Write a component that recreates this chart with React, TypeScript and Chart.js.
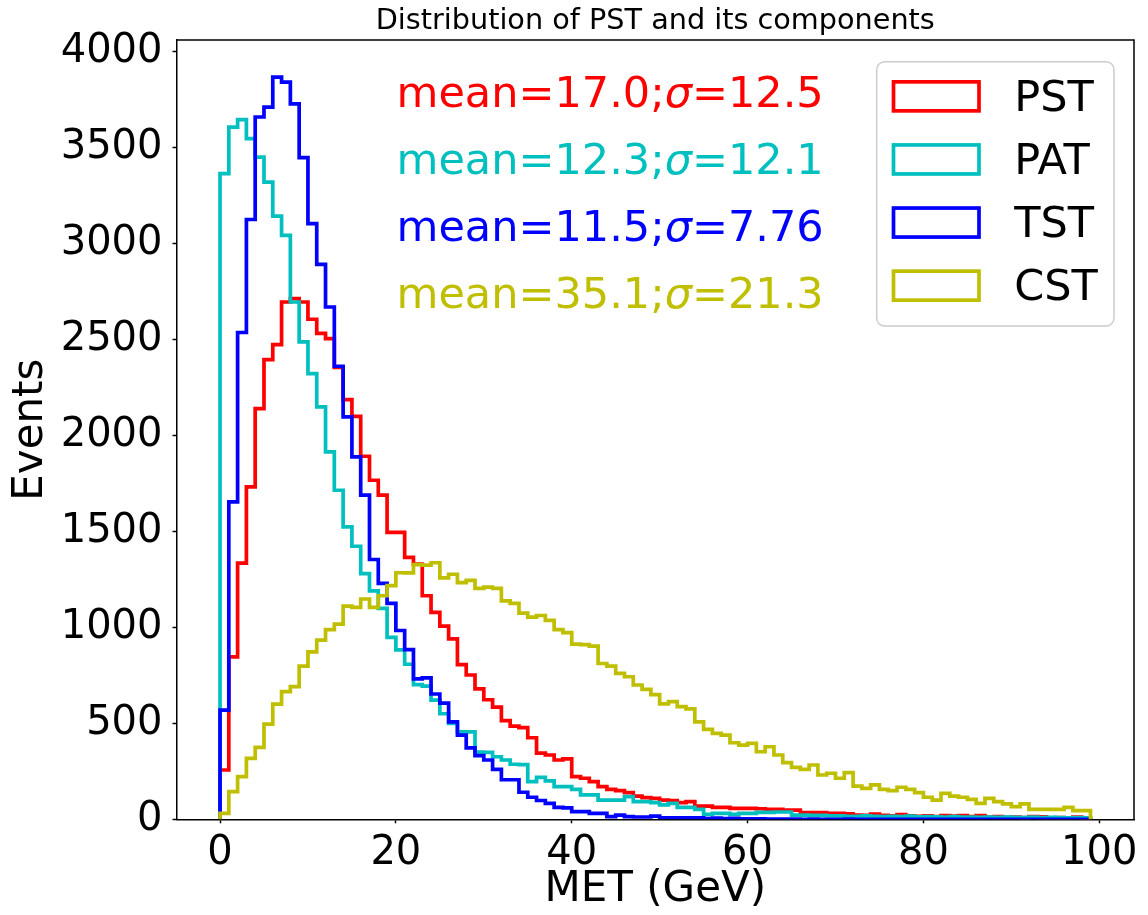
import React, { useEffect, useRef } from "react";
import { Chart, registerables } from "chart.js";

Chart.register(...registerables);

const FONT = "'DejaVu Sans', sans-serif";

// Histogram bin edges (GeV), 99 bins of width 1
const BIN_EDGES: number[] = Array.from({ length: 100 }, (_, i) => i);

const PST: number[] = [
  257, 847, 1335, 1732, 2140, 2396, 2474, 2696, 2714, 2696,
  2606, 2532, 2505, 2355, 2187, 2100, 1892, 1767, 1689, 1495,
  1495, 1365, 1330, 1165, 1078, 1007, 940, 806, 752, 680,
  623, 585, 514, 486, 478, 425, 345, 335, 309, 315,
  222, 214, 196, 170, 156, 149, 139, 121, 113, 109,
  100, 97, 87, 92, 69, 69, 62, 62, 57, 57,
  57, 55, 52, 52, 48, 48, 35, 35, 35, 31,
  31, 28, 22, 20, 27, 20, 18, 25, 18, 15,
  18, 14, 19, 17, 19, 14, 19, 12, 14, 10,
  11, 9, 14, 13, 8, 9, 8, 12, 6,
];

const PAT: number[] = [
  3365, 3607, 3646, 3547, 3451, 3321, 3144, 3043, 2696, 2488,
  2323, 2149, 1915, 1715, 1524, 1423, 1280, 1190, 1099, 948,
  883, 808, 702, 694, 621, 550, 500, 456, 456, 350,
  349, 326, 309, 287, 285, 196, 218, 200, 170, 170,
  156, 127, 127, 100, 100, 100, 118, 92, 92, 87,
  75, 83, 62, 62, 52, 26, 31, 31, 26, 31,
  31, 36, 36, 38, 38, 22, 22, 20, 20, 18,
  18, 16, 16, 18, 15, 14, 15, 14, 17, 13,
  14, 13, 12, 14, 11, 12, 10, 12, 10, 11,
  10, 9, 11, 9, 10, 9, 8, 9, 8,
];

const TST: number[] = [
  569, 1654, 2537, 3126, 3660, 3712, 3868, 3842, 3729, 3448,
  3104, 2892, 2670, 2361, 2097, 1889, 1689, 1354, 1230, 1125,
  984, 884, 732, 737, 653, 605, 508, 439, 372, 332,
  309, 260, 206, 206, 141, 115, 98, 83, 62, 60,
  40, 40, 31, 31, 14, 22, 14, 12, 12, 17,
  8, 8, 8, 7, 8, 3, 6, 3, 5, 2,
  2, 2, 1, 1, 1, 1, 0, 1, 0, 0,
  0, 1, 0, 0, 0, 0, 0, 0, 0, 0,
  0, 0, 0, 0, 0, 0, 0, 0, 0, 0,
  0, 0, 0, 0, 0, 0, 0, 0, 0,
];

const CST: number[] = [
  31, 144, 222, 318, 375, 496, 600, 665, 691, 798,
  873, 934, 988, 1017, 1111, 1104, 1148, 1104, 1165, 1218,
  1285, 1284, 1327, 1325, 1337, 1258, 1277, 1233, 1245, 1203,
  1210, 1203, 1138, 1125, 1075, 1054, 1062, 1037, 988, 973,
  913, 910, 903, 812, 798, 760, 743, 700, 677, 650,
  602, 613, 587, 575, 508, 469, 448, 439, 399, 387,
  396, 352, 378, 335, 295, 271, 260, 283, 231, 240,
  214, 243, 173, 161, 179, 156, 149, 167, 156, 139,
  115, 100, 135, 121, 115, 104, 83, 109, 92, 80,
  66, 80, 52, 52, 52, 52, 62, 45, 45,
];

const SERIES_NAMES: string[] = ["PST", "PAT", "TST", "CST"];
const SERIES_COLORS: string[] = ["#ff0000", "#00bfbf", "#0000ff", "#bfbf00"];
const MEANS: string[] = ["17.0", "12.3", "11.5", "35.1"];
const SIGMAS: string[] = ["12.5", "12.1", "7.76", "21.3"];

const X_TICKS: number[] = [0, 20, 40, 60, 80, 100];
const Y_TICKS: number[] = [0, 500, 1000, 1500, 2000, 2500, 3000, 3500, 4000];

const TITLE = "Distribution of PST and its components";
const X_TITLE = "MET (GeV)";
const Y_TITLE = "Events";

function stepPoints(values: number[]) {
  const pts: { x: number; y: number }[] = [{ x: BIN_EDGES[0], y: 0 }];
  values.forEach((v, i) => {
    pts.push({ x: BIN_EDGES[i], y: v });
    pts.push({ x: BIN_EDGES[i + 1], y: v });
  });
  pts.push({ x: BIN_EDGES[values.length], y: 0 });
  return pts;
}

export default function App() {
  const ref = useRef<HTMLCanvasElement>(null);

  useEffect(() => {
    const canvas = ref.current;
    if (!canvas) return;
    const series = [PST, PAT, TST, CST];
    const allMax = Math.max(...series.map((s) => Math.max(...s)));
    const yMax = allMax * 1.05;
    const xSpan = BIN_EDGES[BIN_EDGES.length - 1] - BIN_EDGES[0];
    const xMin = BIN_EDGES[0] - 0.05 * xSpan;
    const xMax = BIN_EDGES[BIN_EDGES.length - 1] + 0.05 * xSpan;

    const datasets = series.map((vals, k) => ({
      label: SERIES_NAMES[k],
      data: stepPoints(vals),
      borderColor: SERIES_COLORS[k],
      backgroundColor: "transparent",
      borderWidth: 3.7,
      pointRadius: 0,
      pointHoverRadius: 0,
      fill: false,
      tension: 0,
      borderJoinStyle: "miter" as const,
      order: series.length - k,
    }));

    const overlay = {
      id: "overlay",
      afterDraw(chart: any) {
        const { ctx, chartArea: a } = chart;
        ctx.save();
        // top & right spines
        ctx.strokeStyle = "#000";
        ctx.lineWidth = 1.5;
        ctx.beginPath();
        ctx.moveTo(a.left, a.top);
        ctx.lineTo(a.right, a.top);
        ctx.lineTo(a.right, a.bottom);
        ctx.stroke();

        // title
        ctx.fillStyle = "#000";
        ctx.font = `28.7px ${FONT}`;
        ctx.textAlign = "center";
        ctx.textBaseline = "alphabetic";
        ctx.fillText(TITLE, (a.left + a.right) / 2, 28.5);

        // statistics annotations
        ctx.textAlign = "left";
        const normal = `43px ${FONT}`;
        const italic = `italic 43px ${FONT}`;
        SERIES_NAMES.forEach((_, k) => {
          let x = a.left + 220;
          const y = a.top + 66.7 + k * 67.2;
          ctx.fillStyle = SERIES_COLORS[k];
          const p1 = `mean=${MEANS[k]};`;
          ctx.font = normal;
          ctx.fillText(p1, x, y);
          x += ctx.measureText(p1).width;
          ctx.font = italic;
          ctx.fillText("σ", x, y);
          x += ctx.measureText("σ").width;
          ctx.font = normal;
          ctx.fillText(`=${SIGMAS[k]}`, x, y);
        });

        // legend
        const bx = a.right - 257.3;
        const by = a.top + 21.7;
        const bw = 237.3;
        const bh = 264.3;
        ctx.fillStyle = "rgba(255,255,255,0.8)";
        ctx.strokeStyle = "#cccccc";
        ctx.lineWidth = 1.5;
        ctx.beginPath();
        (ctx as any).roundRect(bx, by, bw, bh, 8);
        ctx.fill();
        ctx.stroke();
        ctx.font = `43px ${FONT}`;
        ctx.textAlign = "left";
        SERIES_NAMES.forEach((name, k) => {
          const rowTop = by + 18.3 + k * 63.1;
          ctx.strokeStyle = SERIES_COLORS[k];
          ctx.lineWidth = 3.7;
          ctx.lineJoin = "miter";
          ctx.strokeRect(bx + 16.8, rowTop + 1.85, 85.5, 29.0);
          ctx.fillStyle = "#000";
          ctx.fillText(name, bx + 137.5, rowTop + 30.7);
        });
        ctx.restore();
      },
    };

    const tickFont = { family: FONT, size: 40 };
    const titleFont = { family: FONT, size: 42 };

    const chart = new Chart(canvas, {
      type: "line",
      data: { datasets: datasets as any },
      options: {
        responsive: false,
        animation: false,
        devicePixelRatio: 1,
        events: [],
        layout: { padding: { left: 0, right: 14, top: 40, bottom: 0 } },
        plugins: {
          legend: { display: false },
          tooltip: { enabled: false },
          title: { display: false },
        },
        scales: {
          x: {
            type: "linear",
            min: xMin,
            max: xMax,
            afterFit(s: any) {
              s.height = 95.7;
            },
            afterBuildTicks(s: any) {
              s.ticks = X_TICKS.map((v) => ({ value: v }));
            },
            ticks: {
              font: tickFont,
              color: "#000",
              padding: 6,
              maxRotation: 0,
              autoSkip: false,
              callback: (v: any) => String(v),
            },
            grid: {
              display: true,
              drawOnChartArea: false,
              drawTicks: true,
              tickLength: 4,
              tickColor: "#000",
              tickWidth: 1.5,
            },
            border: { display: true, color: "#000", width: 1.5 },
            title: {
              display: true,
              text: X_TITLE,
              font: titleFont,
              color: "#000",
              padding: { top: 0, bottom: 0 },
            },
          },
          y: {
            type: "linear",
            min: 0,
            max: yMax,
            afterFit(s: any) {
              s.width = 176.5;
            },
            afterBuildTicks(s: any) {
              s.ticks = Y_TICKS.map((v) => ({ value: v }));
            },
            ticks: {
              font: tickFont,
              color: "#000",
              padding: 10,
              autoSkip: false,
              callback: (v: any) => String(v),
            },
            grid: {
              display: true,
              drawOnChartArea: false,
              drawTicks: true,
              tickLength: 4,
              tickColor: "#000",
              tickWidth: 1.5,
            },
            border: { display: true, color: "#000", width: 1.5 },
            title: {
              display: true,
              text: Y_TITLE,
              font: titleFont,
              color: "#000",
              padding: { top: 6, bottom: 0 },
            },
          },
        },
      },
      plugins: [overlay],
    });

    return () => chart.destroy();
  }, []);

  return (
    <div style={{ position: "fixed", left: 0, top: 0, width: 1148, height: 915, background: "#fff" }}>
      <canvas ref={ref} width={1148} height={915} style={{ display: "block" }} />
    </div>
  );
}
